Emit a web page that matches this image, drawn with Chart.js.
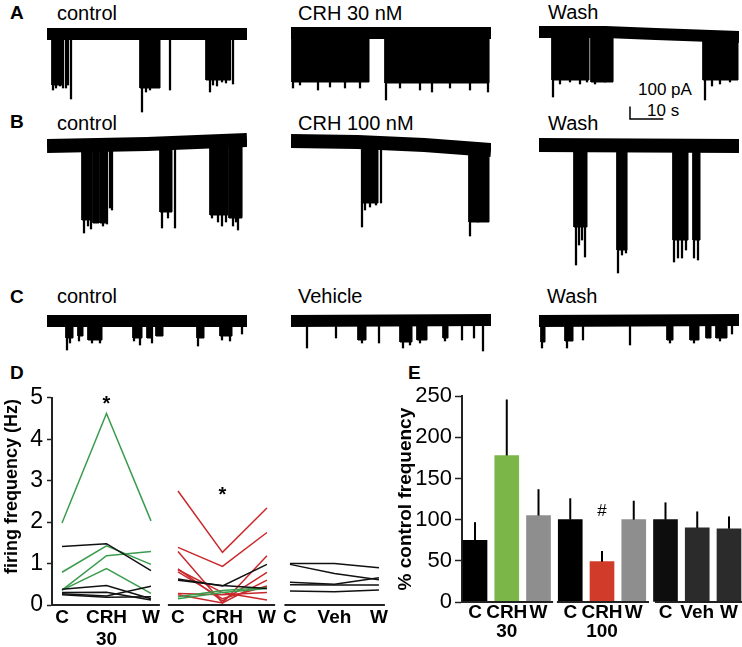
<!DOCTYPE html>
<html lang="en">
<head>
<meta charset="UTF-8">
<title>CRH and firing frequency</title>
<style>
  body { margin:0; width:742px; height:647px; position:relative; background:#fff; overflow:hidden;
         font-family:'Liberation Sans', Arial, sans-serif; color:#000; }
  canvas, .t { position:absolute; }
  .t { line-height:1; white-space:nowrap; font-size:20px; }
  .p { font-weight:bold; font-size:19px; }
  .s { font-size:17px; }
</style>
</head>
<body>
<div class="t p" style="left:10px;top:3px">A</div>
<div class="t" style="left:57px;top:3px">control</div>
<div class="t" style="left:298px;top:3px">CRH 30 nM</div>
<div class="t" style="left:548px;top:2px">Wash</div>
<div class="t s" style="left:638px;top:81px">100 pA</div>
<div class="t s" style="left:647px;top:102px">10 s</div>

<div class="t p" style="left:10px;top:112px">B</div>
<div class="t" style="left:57px;top:113px">control</div>
<div class="t" style="left:298px;top:113px">CRH 100 nM</div>
<div class="t" style="left:548px;top:113px">Wash</div>

<div class="t p" style="left:10px;top:287px">C</div>
<div class="t" style="left:57px;top:286px">control</div>
<div class="t" style="left:298px;top:286px">Vehicle</div>
<div class="t" style="left:547px;top:286px">Wash</div>

<div class="t p" style="left:10px;top:363px">D</div>
<div class="t p" style="left:408px;top:363px">E</div>

<canvas id="a1" width="200" height="100" style="left:47px;top:20px"></canvas>
<canvas id="a2" width="200" height="100" style="left:291px;top:20px"></canvas>
<canvas id="a3" width="200" height="100" style="left:539px;top:20px"></canvas>
<canvas id="b1" width="200" height="155" style="left:47px;top:125px"></canvas>
<canvas id="b2" width="200" height="155" style="left:291px;top:125px"></canvas>
<canvas id="b3" width="200" height="155" style="left:539px;top:125px"></canvas>
<canvas id="c1" width="200" height="62" style="left:47px;top:303px"></canvas>
<canvas id="c2" width="200" height="62" style="left:291px;top:303px"></canvas>
<canvas id="c3" width="200" height="62" style="left:539px;top:303px"></canvas>
<canvas id="chartD" width="390" height="267" style="left:0px;top:380px"></canvas>
<canvas id="chartE" width="354" height="267" style="left:388px;top:380px"></canvas>

<script src="https://cdn.jsdelivr.net/npm/chart.js"></script>
<script>
Chart.defaults.font.family = "'Liberation Sans', Arial, sans-serif"
Chart.defaults.color = '#000'

// ---- traces (time in s, current in pA, 0 = baseline) ----
// bursts: [start, end, depth]   spikes: [time, depth]
const aCtrlBase = [[0, 0], [60, 0]]
const aCtrlBursts = [[1.5, 4.8, -408], [27.9, 33.9, -432], [47.7, 54.9, -368]]
const aCtrlSpikes = [[1.8, -448], [2.7, -432], [3.9, -416], [4.8, -432], [5.7, -432], [6.3, -408], [7.2, -520],
  [28.5, -624], [29.7, -464], [30.9, -448], [31.8, -424], [33.3, -416], [36.9, -448],
  [48.9, -464], [49.8, -408], [51.0, -416], [52.5, -384], [53.7, -392], [54.9, -368], [55.8, -400]]

const aCrhBase = [[0, 8], [60, 8]]
const aCrhBursts = [[0.3, 23.4, -384], [28.2, 59.4, -392]]
const aCrhSpikes = [[0.6, -432], [2.7, -408], [8.1, -448], [11.7, -424], [16.2, -432], [20.7, -432],
  [28.5, -528], [32.7, -432], [38.7, -448], [42.3, -464], [47.7, -432], [53.7, -448], [59.1, -464]]

const aWashBase = [[0, 16], [20, 16], [35, 0], [60, -24]]
const aWashBursts = [[3.9, 15.0, -368], [15.6, 22.2, -384], [49.2, 59.7, -368]]
const aWashSpikes = [[4.2, -504], [6.3, -400], [9.3, -384], [12.3, -400], [14.4, -384], [16.8, -400],
  [19.8, -384], [21.9, -368], [49.8, -528], [51.9, -416], [54.3, -400], [57.3, -384]]

const bCtrlBase = [[0, -8], [30, 8], [60, 40]]
const bCtrlBursts = [[10.5, 13.5, -600], [13.8, 15.6, -624], [15.9, 18.0, -624], [33.9, 37.5, -536],
  [48.9, 54.3, -560], [54.6, 58.5, -584]]
const bCtrlSpikes = [[11.1, -704], [12.3, -648], [13.2, -672], [14.7, -616], [16.8, -648], [18.0, -632],
  [18.9, -504], [19.5, -520], [34.5, -664], [36.3, -584], [38.4, -664], [49.5, -584], [51.3, -616],
  [52.5, -648], [53.7, -616], [55.8, -648], [56.7, -616], [57.3, -680], [58.2, -560]]

const bCrhBase = [[0, 32], [20, 24], [40, 0], [60, -40]]
const bCrhBursts = [[21.3, 26.1, -464], [53.4, 59.4, -616]]
const bCrhSpikes = [[21.3, -656], [22.2, -520], [23.7, -496], [25.5, -480], [27.0, -464],
  [53.7, -728], [54.9, -560], [56.1, -616], [57.3, -600], [58.5, -584]]

const bWashBase = [[0, 0], [60, -8]]
const bWashBursts = [[10.5, 14.4, -656], [23.4, 26.4, -840], [40.2, 44.7, -760], [46.2, 48.3, -760]]
const bWashSpikes = [[11.1, -960], [12.0, -800], [12.9, -760], [13.8, -896], [23.7, -1024], [24.9, -880],
  [26.1, -864], [40.5, -936], [41.7, -904], [42.9, -904], [44.1, -840], [46.5, -904], [47.7, -920]]

const cCtrlBase = [[0, 0], [60, 0]]
const cCtrlBursts = [[5.7, 7.8, -136], [9.3, 10.8, -120], [12.3, 16.5, -152], [25.8, 28.5, -136],
  [30.0, 31.5, -136], [32.7, 34.8, -120], [45.0, 47.1, -136], [51.9, 55.5, -120]]
const cCtrlSpikes = [[6.0, -232], [6.9, -176], [9.6, -160], [13.5, -176], [15.9, -176], [26.1, -160],
  [27.9, -192], [31.5, -176], [45.3, -200], [52.5, -152], [54.9, -160], [58.5, -104]]

const cVehBase = [[0, 0], [60, 8]]
const cVehBursts = [[20.1, 22.5, -152], [32.7, 36.3, -168], [37.8, 40.8, -152], [45.6, 47.1, -136]]
const cVehSpikes = [[4.8, -216], [13.5, -136], [21.3, -176], [26.4, -176], [33.6, -216], [35.7, -192],
  [38.7, -176], [46.2, -160], [51.3, -152], [54.9, -136], [57.6, -240]]

const cWashBase = [[0, 0], [60, 8]]
const cWashBursts = [[0.6, 1.8, -168], [7.8, 10.2, -160], [38.4, 40.2, -152], [45.3, 48.0, -152],
  [50.1, 51.6, -136], [53.1, 56.4, -136]]
const cWashSpikes = [[0.9, -216], [8.4, -216], [13.2, -152], [27.3, -192], [39.3, -176], [46.5, -176],
  [54.3, -160], [57.9, -104]]

// scale bar: 10 s, 100 pA
const scaleBar = { t: 27.3, pA: -680, dt: 10, dpA: 100 }

// ---- panel D: firing frequency (Hz), values for C / CRH(Veh) / W ----
const d30Green = [[1.98, 4.62, 2.03], [0.79, 1.43, 0.98], [0.36, 1.19, 1.29], [0.36, 0.88, 0.28]]
const d30Black = [[1.41, 1.48, 0.83], [0.38, 0.47, 0.15], [0.30, 0.31, 0.12], [0.27, 0.22, 0.45], [0.25, 0.19, 0.20]]
const d100Red = [[2.75, 1.27, 2.34], [1.39, 0.93, 1.75], [1.29, 0.05, 1.19], [0.87, 0.10, 0.79],
  [0.85, 0.30, 0.12], [0.28, 0.25, 0.30], [0.25, 0.05, 0.60], [0.80, 0.15, 0.46]]
const d100Black = [[0.63, 0.46, 0.98], [0.60, 0.47, 0.40]]
const d100Green = [[0.20, 0.35, 0.42], [0.15, 0.30, 0.40]]
const dVehBlack = [[1.00, 1.00, 0.90], [0.98, 0.76, 0.61], [0.55, 0.50, 0.66], [0.49, 0.48, 0.48], [0.34, 0.32, 0.36]]
const dTickLabels = [['C'], ['CRH', '30'], ['W'], ['C'], ['CRH', '100'], ['W'], ['C'], ['Veh'], ['W']]
const dStars = [[0, 4.70], [1, 2.51]]   // group, level

// ---- panel E: % control frequency ----
const eLabels = [['C'], ['CRH', '30'], ['W'], ['C'], ['CRH', '100'], ['W'], ['C'], ['Veh'], ['W']]
const eMeans = [75, 178, 105, 100, 49, 100, 100, 90, 89]
const eErr = [22, 68, 32, 26, 13, 23, 21, 20, 15]
const eHash = { index: 4, level: 105 }

const GREEN = '#3b9c4e', RED = '#c9282c'
const eColors = ['#000000', '#7ab648', '#8e8e8e', '#000000', '#d13c2a', '#8e8e8e', '#0d0d0d', '#2b2b2b', '#2b2b2b']

// layout of the group positions on D and E x axes
const dPos = [[0, 1, 2], [2.607, 3.607, 4.607], [5.124, 6.124, 7.124]]
const dSegs = [[-0.2247, 2.2], [2.38, 4.79], [5.0, 7.258]]
const eSegs = [[-0.41, 2.46], [2.58, 5.48], [5.67, 8.41]]

function traceChart(id, base, bursts, spikes, yMin, yMax, band, extra) {
  const datasets = []
  bursts.forEach(b => {
    datasets.push({
      type: 'line',
      data: [{ x: b[0], y: 0 }, { x: b[0], y: b[2] }, { x: b[1], y: b[2] }, { x: b[1], y: 0 }],
      borderColor: '#000', backgroundColor: '#000', borderWidth: 1, pointRadius: 0, fill: 'origin'
    })
  })
  datasets.push({
    type: 'bar',
    data: spikes.map(s => ({ x: s[0], y: [0, s[1]] })),
    backgroundColor: '#000', barThickness: 1.6, grouped: false
  })
  datasets.push({
    type: 'line',
    data: base.map(p => ({ x: p[0], y: p[1] })),
    borderColor: '#000', borderWidth: band, pointRadius: 0, fill: false, borderCapStyle: 'butt'
  })
  if (extra) datasets.push(extra)

  new Chart(document.getElementById(id), {
    type: 'bar',
    data: { datasets: datasets },
    options: {
      responsive: false, animation: false, events: [],
      layout: { padding: 0 },
      plugins: { legend: { display: false }, tooltip: { enabled: false } },
      scales: {
        x: { type: 'linear', min: 0, max: 60, offset: false, display: false },
        y: { min: yMin, max: yMax, display: false }
      }
    }
  })
}

const scaleBarSet = {
  type: 'line',
  data: [{ x: scaleBar.t, y: scaleBar.pA + scaleBar.dpA }, { x: scaleBar.t, y: scaleBar.pA },
         { x: scaleBar.t + scaleBar.dt, y: scaleBar.pA }],
  borderColor: '#000', borderWidth: 1.5, pointRadius: 0, fill: false
}

traceChart('a1', aCtrlBase, aCtrlBursts, aCtrlSpikes, -688, 112, 12)
traceChart('a2', aCrhBase, aCrhBursts, aCrhSpikes, -688, 112, 12)
traceChart('a3', aWashBase, aWashBursts, aWashSpikes, -688, 112, 12, scaleBarSet)
traceChart('b1', bCtrlBase, bCtrlBursts, bCtrlSpikes, -1080, 160, 14)
traceChart('b2', bCrhBase, bCrhBursts, bCrhSpikes, -1080, 160, 14)
traceChart('b3', bWashBase, bWashBursts, bWashSpikes, -1080, 160, 14)
traceChart('c1', cCtrlBase, cCtrlBursts, cCtrlSpikes, -352, 144, 12)
traceChart('c2', cVehBase, cVehBursts, cVehSpikes, -352, 144, 12)
traceChart('c3', cWashBase, cWashBursts, cWashSpikes, -352, 144, 12)

// ---- panel D ----
const dSets = []
function addLines(group, rows, color) {
  rows.forEach(r => {
    dSets.push({
      data: r.map((v, i) => ({ x: dPos[group][i], y: v })),
      borderColor: color, borderWidth: 1.5, pointRadius: 0, fill: false
    })
  })
}
addLines(0, d30Black, '#111')
addLines(0, d30Green, GREEN)
addLines(1, d100Black, '#111')
addLines(1, d100Green, GREEN)
addLines(1, d100Red, RED)
addLines(2, dVehBlack, '#111')

const segPlugin = segs => ({
  id: 'segs',
  afterDraw(chart) {
    const ctx = chart.ctx, x = chart.scales.x, y = chart.chartArea.bottom
    ctx.save()
    ctx.strokeStyle = '#222'
    ctx.lineWidth = 2
    segs.forEach(s => {
      ctx.beginPath()
      ctx.moveTo(x.getPixelForValue(s[0]), y)
      ctx.lineTo(x.getPixelForValue(s[1]), y)
      ctx.stroke()
    })
    ctx.restore()
  }
})

new Chart(document.getElementById('chartD'), {
  type: 'line',
  data: { datasets: dSets },
  options: {
    responsive: false, animation: false, events: [],
    layout: { padding: { top: 15, right: 5, left: 0, bottom: 0 } },
    plugins: { legend: { display: false }, tooltip: { enabled: false } },
    scales: {
      x: {
        type: 'linear', min: -0.2247, max: 7.258,
        grid: { display: false, drawTicks: false }, border: { display: false },
        afterBuildTicks: s => { s.ticks = dPos.flat().map(v => ({ value: v })) },
        ticks: {
          autoSkip: false, maxRotation: 0, padding: 2,
          font: { size: 19, weight: 'bold', lineHeight: 1.16 },
          callback: (v, i) => dTickLabels[i]
        },
        afterFit: s => { s.height = 42 }
      },
      y: {
        min: 0, max: 5,
        ticks: { stepSize: 1, padding: 4, font: { size: 23 } },
        grid: { drawOnChartArea: false, color: '#222', tickLength: 5, tickWidth: 1.5 },
        border: { color: '#222', width: 2 },
        title: { display: true, text: '      firing frequency (Hz)', font: { size: 18, weight: 'bold' }, padding: { top: 1, bottom: 0 } },
        afterFit: s => { s.width = 52 }
      }
    }
  },
  plugins: [segPlugin(dSegs), {
    id: 'stars',
    afterDraw(chart) {
      const ctx = chart.ctx
      ctx.save()
      ctx.font = "bold 20px 'Liberation Sans', Arial, sans-serif"
      ctx.fillStyle = '#000'
      ctx.textAlign = 'center'
      ctx.textBaseline = 'alphabetic'
      dStars.forEach(s => {
        ctx.fillText('*', chart.scales.x.getPixelForValue(dPos[s[0]][1]), chart.scales.y.getPixelForValue(s[1]))
      })
      ctx.restore()
    }
  }]
})

// ---- panel E ----
new Chart(document.getElementById('chartE'), {
  type: 'bar',
  data: {
    datasets: [{
      data: eMeans.map((v, i) => ({ x: i, y: v })),
      backgroundColor: eColors, barThickness: 24
    }]
  },
  options: {
    responsive: false, animation: false, events: [],
    layout: { padding: { top: 10, right: 0, left: 0, bottom: 0 } },
    plugins: { legend: { display: false }, tooltip: { enabled: false } },
    scales: {
      x: {
        type: 'linear', min: -0.41, max: 8.41, offset: false,
        grid: { display: false, drawTicks: false }, border: { display: false },
        afterBuildTicks: s => { s.ticks = eMeans.map((v, i) => ({ value: i })) },
        ticks: {
          autoSkip: false, maxRotation: 0, padding: 1,
          font: { size: 19, weight: 'bold', lineHeight: 1.0 },
          callback: (v, i) => eLabels[i]
        },
        afterFit: s => { s.height = 45 }
      },
      y: {
        min: 0, max: 250,
        ticks: { stepSize: 50, padding: 3, font: { size: 22 } },
        grid: { drawOnChartArea: false, color: '#222', tickLength: 7, tickWidth: 1.5 },
        border: { color: '#222', width: 2 },
        title: { display: true, text: '% control frequency', font: { size: 19, weight: 'bold' }, padding: { top: 6, bottom: 0 } },
        afterFit: s => { s.width = 74 }
      }
    }
  },
  plugins: [segPlugin(eSegs), {
    id: 'errs',
    afterDatasetsDraw(chart) {
      const ctx = chart.ctx, x = chart.scales.x, y = chart.scales.y
      ctx.save()
      ctx.strokeStyle = '#000'
      ctx.lineWidth = 2
      eMeans.forEach((m, i) => {
        ctx.beginPath()
        ctx.moveTo(x.getPixelForValue(i), y.getPixelForValue(m))
        ctx.lineTo(x.getPixelForValue(i), y.getPixelForValue(m + eErr[i]))
        ctx.stroke()
      })
      ctx.font = "17px 'Liberation Sans', Arial, sans-serif"
      ctx.fillStyle = '#000'
      ctx.textAlign = 'center'
      ctx.fillText('#', x.getPixelForValue(eHash.index), y.getPixelForValue(eHash.level))
      ctx.restore()
    }
  }]
})
</script>
</body>
</html>
